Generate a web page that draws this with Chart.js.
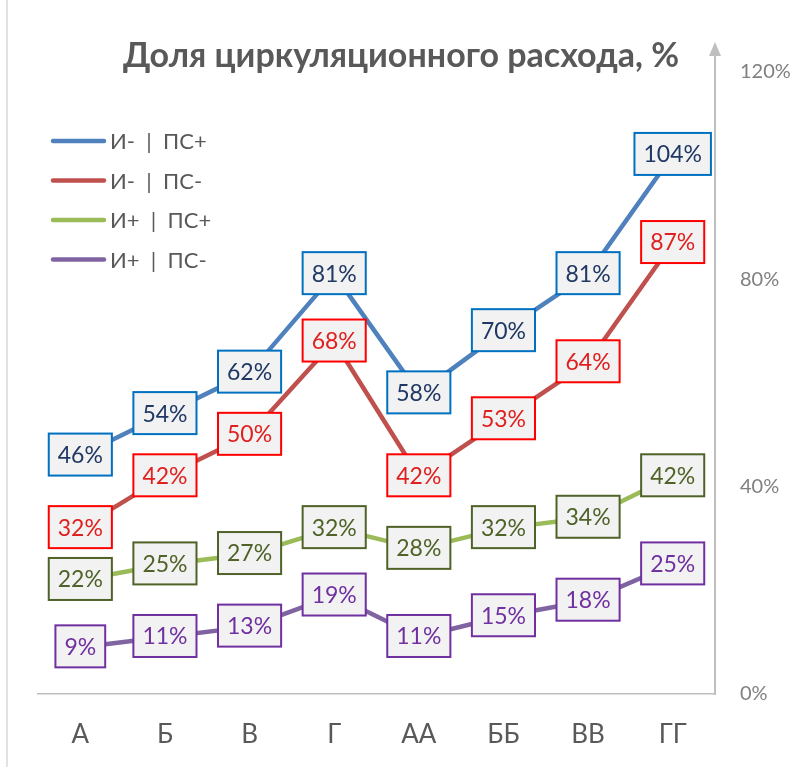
<!DOCTYPE html>
<html>
<head>
<meta charset="utf-8">
<script src="https://cdn.jsdelivr.net/npm/chart.js@4.4.1/dist/chart.umd.min.js"></script>
<style>
  html, body { margin: 0; padding: 0; background: #fff; }
  #wrap { width: 793px; height: 767px; }
</style>
</head>
<body>
<div id="wrap"><canvas id="circChart" width="793" height="767"></canvas></div>
<script>
// данные
const categories = ['А', 'Б', 'В', 'Г', 'АА', 'ББ', 'ВВ', 'ГГ'];
const seriesNames = ['И- | ПС+', 'И- | ПС-', 'И+ | ПС+', 'И+ | ПС-'];
const valsMinusPlus = [46, 54, 62, 81, 58, 70, 81, 104];
const valsMinusMinus = [32, 42, 50, 68, 42, 53, 64, 87];
const valsPlusPlus = [22, 25, 27, 32, 28, 32, 34, 42];
const valsPlusMinus = [9, 11, 13, 19, 11, 15, 18, 25];
const yTicks = [0, 40, 80, 120];
const chartTitle = 'Доля циркуляционного расхода, %';

const FONT = 'Lato, "Noto Sans", sans-serif';
const lineColors = ['#4f81bd', '#c0504d', '#9bbb59', '#8064a2'];
const boxBorders = ['#0070c0', '#ff0000', '#4f6228', '#7030a0'];
const boxText = ['#1f3864', '#e0201f', '#4f6228', '#7030a0'];

Chart.defaults.font.family = FONT;

const decor = {
    id: 'decor',
    beforeDraw(chart) {
        const c = chart.ctx;
        c.save();
        c.fillStyle = '#fff';
        c.fillRect(0, 0, chart.width, chart.height);
        c.strokeStyle = '#d9d9d9';
        c.lineWidth = 1.5;
        c.beginPath();
        c.moveTo(7, 0);
        c.lineTo(7, chart.height);
        c.stroke();
        c.restore();
    },
    afterDatasetsDraw(chart) {
        const c = chart.ctx;
        c.save();
        c.font = '23px ' + FONT;
        c.textAlign = 'center';
        c.textBaseline = 'middle';
        chart.data.datasets.forEach((ds, i) => {
            chart.getDatasetMeta(i).data.forEach((pt, j) => {
                const txt = ds.data[j] + '%';
                const w = c.measureText(txt).width + 18;
                const h = 42;
                const x = pt.x, y = pt.y - 1;
                c.fillStyle = '#f2f2f2';
                c.fillRect(x - w / 2, y - h / 2, w, h);
                c.strokeStyle = boxBorders[i];
                c.lineWidth = 2;
                c.strokeRect(x - w / 2, y - h / 2, w, h);
                c.fillStyle = boxText[i];
                c.fillText(txt, x, y + 1);
            });
        });
        c.restore();
    },
    afterDraw(chart) {
        const c = chart.ctx;
        const area = chart.chartArea;
        c.save();
        // заголовок
        c.fillStyle = '#595959';
        c.font = 'bold 34px ' + FONT;
        c.textAlign = 'center';
        c.textBaseline = 'middle';
        c.fillText(chartTitle, 401, 56);
        // стрелка оси
        c.strokeStyle = '#bfbfbf';
        c.lineWidth = 2;
        c.beginPath();
        c.moveTo(area.right, area.top);
        c.lineTo(area.right, 46);
        c.stroke();
        c.fillStyle = '#bfbfbf';
        c.beginPath();
        c.moveTo(area.right, 42);
        c.lineTo(area.right - 6, 56);
        c.lineTo(area.right + 6, 56);
        c.closePath();
        c.fill();
        // легенда
        c.font = '22px ' + FONT;
        c.textAlign = 'left';
        chart.data.datasets.forEach((ds, i) => {
            const y = 141 + i * 39.5;
            c.strokeStyle = ds.borderColor;
            c.lineWidth = 4.5;
            c.lineCap = 'round';
            c.beginPath();
            c.moveTo(53, y);
            c.lineTo(104, y);
            c.stroke();
            c.fillStyle = '#595959';
            c.fillText(ds.label.replace(' | ', '  |  '), 110, y + 1);
        });
        c.restore();
    }
};

const ctx = document.getElementById('circChart').getContext('2d');
const circChart = new Chart(ctx, {
    type: 'line',
    data: {
        labels: categories,
        datasets: [valsMinusPlus, valsMinusMinus, valsPlusPlus, valsPlusMinus].map((vals, i) => ({
            label: seriesNames[i],
            data: vals,
            borderColor: lineColors[i],
            backgroundColor: lineColors[i],
            borderWidth: 4.5,
            pointRadius: 0,
            tension: 0,
            borderJoinStyle: 'round',
            borderCapStyle: 'round'
        }))
    },
    options: {
        responsive: false,
        animation: false,
        devicePixelRatio: 1,
        layout: { padding: { top: 72, left: 38, right: 0, bottom: 0 } },
        plugins: {
            legend: { display: false },
            title: { display: false },
            tooltip: { enabled: false }
        },
        scales: {
            x: {
                offset: true,
                grid: { display: false, drawTicks: false },
                border: { color: '#bfbfbf', width: 1.5 },
                ticks: { color: '#595959', font: { size: 26 }, padding: 25 },
                afterFit(scale) { scale.height = 73; }
            },
            y: {
                position: 'right',
                min: 0,
                max: 120,
                grid: { display: false, drawTicks: false },
                border: { color: '#bfbfbf', width: 2 },
                afterBuildTicks(scale) { scale.ticks = yTicks.map(v => ({ value: v })); },
                ticks: {
                    color: '#808080',
                    font: { size: 20 },
                    padding: 25,
                    callback: v => v + '%'
                },
                afterFit(scale) { scale.width = 78; }
            }
        }
    },
    plugins: [decor]
});
</script>
</body>
</html>
